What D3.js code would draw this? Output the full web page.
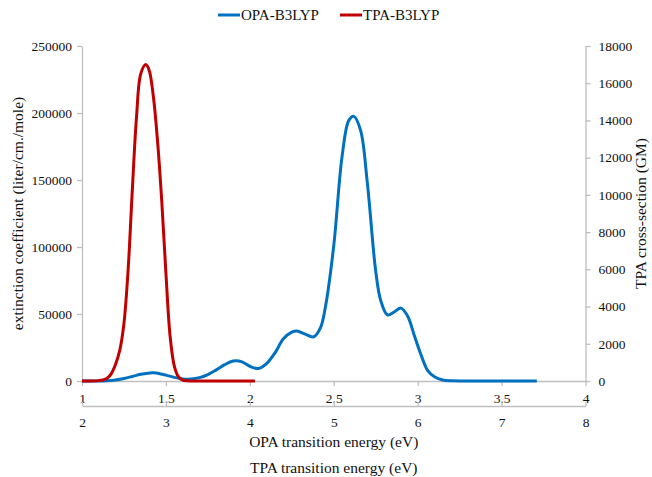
<!DOCTYPE html>
<html>
<head>
<meta charset="utf-8">
<script src="https://cdn.jsdelivr.net/npm/d3@7/dist/d3.min.js"></script>
<style>
  html, body { margin: 0; padding: 0; background: #fff; }
  svg { display: block; font-family: "Liberation Serif", "Times New Roman", serif; }
  .axis path, .axis line { stroke: #bfbfbf; stroke-width: 1.3; }
  .axis text { fill: #111; font-size: 13.5px; font-family: "Liberation Serif", serif; }
</style>
</head>
<body>
<svg id="chart" width="652" height="477"></svg>
<script>
// ---- data ----
const opaEnergy = [1.0, 1.1, 1.15, 1.2, 1.25, 1.3, 1.35, 1.42, 1.45, 1.5, 1.55, 1.6, 1.63, 1.7, 1.75, 1.8, 1.85, 1.9, 1.95, 2.0, 2.05, 2.1, 2.15, 2.2, 2.25, 2.28, 2.33, 2.38, 2.42, 2.45, 2.5, 2.55, 2.59, 2.62, 2.66, 2.7, 2.75, 2.78, 2.82, 2.86, 2.9, 2.94, 2.98, 3.02, 3.06, 3.1, 3.15, 3.2, 3.3, 3.5, 3.71];
const opaExtinction = [0, 50, 250, 800, 1900, 3400, 5000, 6200, 5800, 4400, 2700, 1500, 1300, 2500, 4800, 8300, 12200, 14900, 14500, 11000, 9300, 13000, 21000, 31500, 36500, 37300, 35000, 33000, 39500, 55000, 101000, 168000, 194500, 197500, 187000, 148000, 82000, 60000, 49300, 51500, 54400, 48500, 34000, 19500, 7800, 3200, 700, 100, 0, 0, 0];

const tpaEnergy = [2.0, 2.1, 2.2, 2.25, 2.3, 2.35, 2.4, 2.45, 2.5, 2.55, 2.6, 2.65, 2.7, 2.76, 2.8, 2.85, 2.9, 2.95, 3.0, 3.05, 3.1, 3.15, 3.2, 3.25, 3.3, 3.4, 3.6, 3.8, 4.06];
const tpaCross = [0, 0, 20, 55, 150, 400, 900, 1650, 3100, 6000, 10300, 14200, 16500, 17000, 16700, 15300, 12900, 9700, 5800, 2400, 800, 220, 50, 10, 0, 0, 0, 0, 0];

const opaTicks = [1, 1.5, 2, 2.5, 3, 3.5, 4];
const tpaTicks = [2, 3, 4, 5, 6, 7, 8];
const leftTicks = [0, 50000, 100000, 150000, 200000, 250000];
const rightTicks = [0, 2000, 4000, 6000, 8000, 10000, 12000, 14000, 16000, 18000];

const seriesNames = ["OPA-B3LYP", "TPA-B3LYP"];
const seriesColors = ["#0070C0", "#C00000"];

// ---- layout ----
const FONT = "Liberation Serif, Times New Roman, serif";
const svg = d3.select("#chart");
const x0 = 82, x1 = 585.5, yTop = 46, yBot = 381;

const xOpa = d3.scaleLinear().domain([1, 4]).range([x0, x1]);
const xTpa = d3.scaleLinear().domain([2, 8]).range([x0, x1]);
const yLeft = d3.scaleLinear().domain([0, 250000]).range([yBot, yTop]);
const yRight = d3.scaleLinear().domain([0, 18000]).range([yBot, yTop]);

function styleAxis(g) {
  g.attr("font-family", FONT).attr("font-size", 13.5);
  g.selectAll("text").attr("fill", "#111");
  g.selectAll("path, line").attr("stroke", "#bfbfbf");
}

// axes
svg.append("g").attr("class", "axis").attr("transform", `translate(${x0},0)`)
  .call(d3.axisLeft(yLeft).tickValues(leftTicks).tickFormat(d3.format("d")).tickSizeInner(5).tickSizeOuter(0).tickPadding(5))
  .call(styleAxis);

svg.append("g").attr("class", "axis").attr("transform", `translate(${x1},0)`)
  .call(d3.axisRight(yRight).tickValues(rightTicks).tickFormat(d3.format("d")).tickSizeInner(5).tickSizeOuter(0).tickPadding(8))
  .call(styleAxis);

svg.append("g").attr("class", "axis").attr("transform", `translate(0,${yBot})`)
  .call(d3.axisBottom(xOpa).tickValues(opaTicks).tickFormat(d => String(d)).tickSizeInner(5).tickSizeOuter(0).tickPadding(7))
  .call(styleAxis);

svg.append("g").attr("class", "axis").attr("transform", `translate(0,406)`)
  .call(d3.axisBottom(xTpa).tickValues(tpaTicks).tickFormat(d3.format("d")).tickSizeInner(-4).tickSizeOuter(0).tickPadding(11))
  .call(styleAxis);

// lines
const opaData = opaEnergy.map((e, i) => [e, opaExtinction[i]]);
const tpaData = tpaEnergy.map((e, i) => [e, tpaCross[i]]);

const opaLine = d3.line().x(d => xOpa(d[0])).y(d => yLeft(d[1])).curve(d3.curveCatmullRom.alpha(0.5));
const tpaLine = d3.line().x(d => xTpa(d[0])).y(d => yRight(d[1])).curve(d3.curveCatmullRom.alpha(0.5));

svg.append("path").datum(opaData).attr("d", opaLine)
  .attr("fill", "none").attr("stroke", seriesColors[0]).attr("stroke-width", 3).attr("stroke-linejoin", "round");
svg.append("path").datum(tpaData).attr("d", tpaLine)
  .attr("fill", "none").attr("stroke", seriesColors[1]).attr("stroke-width", 3).attr("stroke-linejoin", "round");

// axis titles
const titleStyle = s => s.attr("font-size", "15.5px").attr("font-family", FONT).attr("fill", "#111").attr("text-anchor", "middle");
svg.append("text").attr("x", (x0 + x1) / 2).attr("y", 447).text("OPA transition energy (eV)").call(titleStyle);
svg.append("text").attr("x", (x0 + x1) / 2).attr("y", 473).text("TPA transition energy (eV)").call(titleStyle);
svg.append("text").attr("transform", `translate(23,${(yTop + yBot) / 2}) rotate(-90)`).text("extinction coefficient (liter/cm./mole)").call(titleStyle);
svg.append("text").attr("transform", `translate(646,${(yTop + yBot) / 2}) rotate(-90)`).text("TPA cross-section (GM)").call(titleStyle);

// legend
const legendX = [218, 340];
seriesNames.forEach((name, i) => {
  svg.append("line").attr("x1", legendX[i]).attr("x2", legendX[i] + 22).attr("y1", 15).attr("y2", 15)
    .attr("stroke", seriesColors[i]).attr("stroke-width", 3);
  svg.append("text").attr("x", legendX[i] + 23).attr("y", 19.5).attr("font-size", "15px")
    .attr("font-family", FONT).attr("fill", "#111").text(name);
});
</script>
</body>
</html>
